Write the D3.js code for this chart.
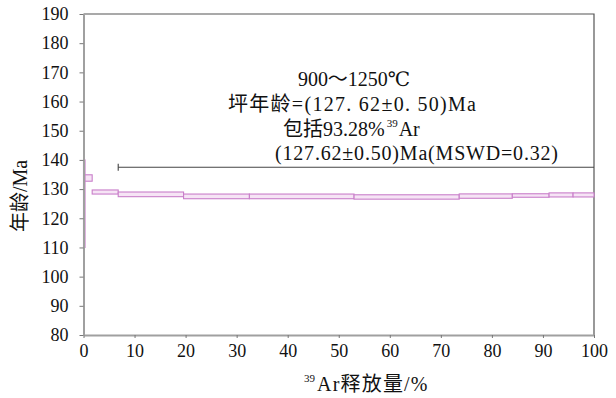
<!DOCTYPE html>
<html>
<head>
<meta charset="utf-8">
<script src="https://cdn.jsdelivr.net/npm/d3@7"></script>
<style>
  body { margin: 0; background: #fff; }
</style>
</head>
<body>
<div class="visholder"></div>
<script>
// step spectrum data: cumulative 39Ar release (%) at each step boundary, age (Ma) and error
const stepEdges = [0, 0.3, 1.7, 6.8, 19.6, 32.5, 53.0, 73.6, 84.0, 91.2, 95.9, 100];
const stepAges = [125.0, 133.8, 129.0, 128.2, 127.5, 127.5, 127.3, 127.6, 127.8, 128.0, 128.0];
const stepErrs = [15.0, 1.1, 0.7, 0.8, 0.8, 0.8, 0.75, 0.75, 0.6, 0.7, 0.7];
// plateau bar
const plateauRange = [6.8, 100];
const plateauLevel = 137.5;
// ticks
const xTicks = [0, 10, 20, 30, 40, 50, 60, 70, 80, 90, 100];
const yTicks = [80, 90, 100, 110, 120, 130, 140, 150, 160, 170, 180, 190];

(function () {
    "use strict";
    const width = 616, height = 398;
    const mLeft = 83.5, mRight = 594, mTop = 14, mBottom = 335;
    const serif = "'Liberation Serif', 'Times New Roman', 'DejaVu Serif', 'Noto Sans CJK SC', serif";

    let svg = d3.select(".visholder").append("svg")
        .attr("width", width).attr("height", height)
        .attr("font-family", serif);

    let x = d3.scaleLinear().domain([0, 100]).range([mLeft, mRight]);
    let y = d3.scaleLinear().domain([80, 190]).range([mBottom, mTop]);

    // frame top + right
    svg.append("path")
        .attr("d", `M${mLeft},${mTop}H${mRight}V${mBottom}`)
        .attr("fill", "none").attr("stroke", "#555").attr("stroke-width", 1.2);

    // steps
    let steps = stepAges.map((a, i) => ({ x0: stepEdges[i], x1: stepEdges[i + 1], age: a, err: stepErrs[i] }));
    svg.append("g").selectAll("rect").data(steps).enter().append("rect")
        .attr("x", d => x(d.x0))
        .attr("width", d => Math.max(1.5, x(d.x1) - x(d.x0)))
        .attr("y", d => y(d.age + d.err))
        .attr("height", d => y(d.age - d.err) - y(d.age + d.err))
        .attr("fill", "#f6e4f5")
        .attr("stroke", "#c97fca")
        .attr("stroke-width", 1.1);

    // plateau bar
    let py = y(plateauLevel);
    svg.append("line")
        .attr("x1", x(plateauRange[0])).attr("x2", x(plateauRange[1]))
        .attr("y1", py).attr("y2", py)
        .attr("stroke", "#444").attr("stroke-width", 1.1);
    svg.append("line")
        .attr("x1", x(plateauRange[0])).attr("x2", x(plateauRange[0]))
        .attr("y1", py - 3.5).attr("y2", py + 3.5)
        .attr("stroke", "#444").attr("stroke-width", 1.1);

    // axes
    let xAxis = d3.axisBottom(x).tickValues(xTicks).tickSize(3).tickSizeOuter(0).tickPadding(6);
    let gx = svg.append("g").attr("transform", `translate(0,${mBottom})`).call(xAxis);
    let yAxis = d3.axisLeft(y).tickValues(yTicks).tickSize(4).tickSizeOuter(0).tickPadding(11);
    let gy = svg.append("g").attr("transform", `translate(${mLeft},0)`).call(yAxis);
    [gx, gy].forEach(g => {
        g.attr("font-family", serif).attr("font-size", 18);
        g.select(".domain").attr("stroke", "#a0a0a0").attr("stroke-width", 2);
        g.selectAll(".tick line").attr("stroke", "#777");
        g.selectAll(".tick text").attr("fill", "#111");
    });

    // axis titles
    svg.append("text")
        .attr("transform", "translate(27,196) rotate(-90)")
        .attr("text-anchor", "middle")
        .attr("font-size", 20).attr("fill", "#111")
        .text("年龄/Ma");

    let xt = svg.append("text")
        .attr("x", 304).attr("y", 391)
        .attr("font-size", 20).attr("fill", "#111");
    xt.append("tspan").text("39").attr("font-size", 11).attr("dy", -9);
    xt.append("tspan").text("Ar释放量/%").attr("dy", 9).attr("dx", 2).attr("letter-spacing", 1.2);

    // annotation
    let note = svg.append("g").attr("font-size", 20).attr("fill", "#111");
    note.append("text").attr("x", 298).attr("y", 86)
        .attr("textLength", 112).attr("lengthAdjust", "spacing")
        .text("900～1250℃");
    note.append("text").attr("x", 228).attr("y", 111)
        .attr("textLength", 248).attr("lengthAdjust", "spacing")
        .text("坪年龄=(127. 62±0. 50)Ma");
    let l3 = note.append("text").attr("x", 283).attr("y", 136);
    l3.append("tspan").text("包括93.28%");
    l3.append("tspan").text("39").attr("font-size", 11).attr("dy", -9).attr("dx", 2);
    l3.append("tspan").text("Ar").attr("dy", 9).attr("dx", 1);
    note.append("text").attr("x", 275).attr("y", 160)
        .attr("textLength", 283).attr("lengthAdjust", "spacing")
        .text("(127.62±0.50)Ma(MSWD=0.32)");
})();
</script>
</body>
</html>
